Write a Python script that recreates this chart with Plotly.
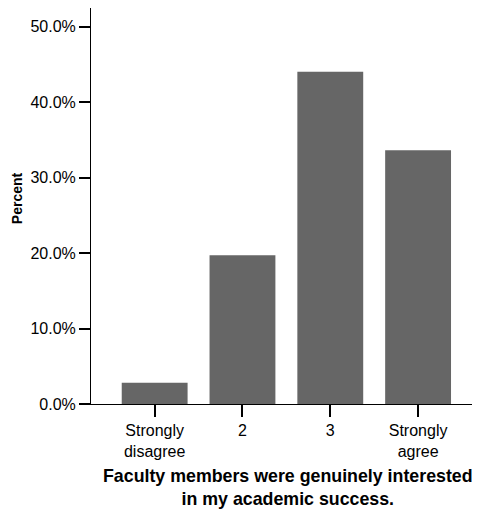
import plotly.graph_objects as go

# response categories and share of respondents
categories = ["Strongly<br>disagree", "2", "3", "Strongly<br>agree"]
percent = [0.028, 0.197, 0.440, 0.336]

x_title = "Faculty members were genuinely interested<br>in my academic success."
y_title = "Percent"

FONT = "Liberation Sans, Arial, sans-serif"

fig = go.Figure(
    go.Bar(
        x=categories,
        y=percent,
        marker=dict(color="#666666", line=dict(width=0)),
        hoverinfo="none",
    )
)

# page body keeps its default 8px margin, so the figure is a little smaller
fig.update_layout(
    width=472,
    height=502,
    margin=dict(l=83, r=0, t=0, b=106),
    paper_bgcolor="white",
    plot_bgcolor="white",
    showlegend=False,
    bargap=0.25,
    font=dict(family=FONT, size=16, color="black"),
    xaxis=dict(
        range=[-0.725, 3.705],
        showline=True,
        linecolor="black",
        linewidth=1,
        ticks="outside",
        ticklen=12,
        tickwidth=1.5,
        tickcolor="black",
        showgrid=False,
        zeroline=False,
        tickfont=dict(size=16),
    ),
    yaxis=dict(
        range=[0, 0.5245],
        tickvals=[0, 0.1, 0.2, 0.3, 0.4, 0.5],
        tickformat=".1%",
        showline=True,
        linecolor="black",
        linewidth=1,
        ticks="outside",
        ticklen=11,
        tickwidth=1.5,
        tickcolor="black",
        showgrid=False,
        zeroline=False,
        tickfont=dict(size=16),
    ),
    annotations=[
        dict(
            text=x_title, xref="paper", yref="paper", x=0.507, y=-0.21,
            xanchor="center", yanchor="middle", showarrow=False,
            font=dict(size=17.8, family=FONT, weight="bold"),
        ),
        dict(
            text=y_title, xref="paper", yref="paper", x=-0.19, y=0.52,
            xanchor="center", yanchor="middle", showarrow=False, textangle=-90,
            font=dict(size=14, family=FONT, weight="bold"),
        ),
    ],
)

fig.write_html("out.html")
